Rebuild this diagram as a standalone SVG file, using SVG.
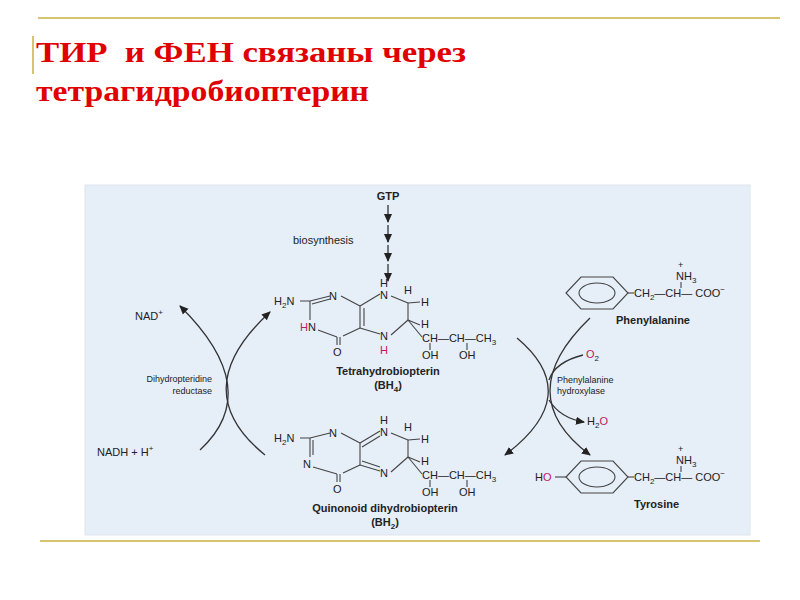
<svg xmlns="http://www.w3.org/2000/svg" width="800" height="600" viewBox="0 0 800 600">
<style>
.t{font-family:"Liberation Sans",Arial,sans-serif;font-size:11px;fill:#222}
.s{font-family:"Liberation Sans",Arial,sans-serif;font-size:9px;fill:#222}
.b{font-weight:bold}
.p{fill:#c2185b}
.bd{stroke:#444;stroke-width:1.1;fill:none}
.cn{stroke:#333;stroke-width:1.3;fill:none}
.title{font-family:"Liberation Serif","Times New Roman",serif;font-size:29px;font-weight:bold;fill:#e00000}
</style>
<defs>
<marker id="ah" markerWidth="10" markerHeight="10" refX="8" refY="5" orient="auto" markerUnits="userSpaceOnUse"><path d="M0,1 L9,5 L0,9 Z" fill="#222"/></marker>
</defs>
<rect width="800" height="600" fill="#fff"/>
<line x1="38" y1="18" x2="780" y2="18" stroke="#c8b040" stroke-width="1.5"/>
<line x1="33" y1="36" x2="33" y2="74" stroke="#c8b040" stroke-width="1.5"/>
<line x1="40" y1="541" x2="760" y2="541" stroke="#c8b040" stroke-width="1.5"/>
<text class="title" x="36" y="62" textLength="430" lengthAdjust="spacingAndGlyphs" xml:space="preserve">ТИР  и ФЕН связаны через</text>
<text class="title" x="36" y="101" textLength="333" lengthAdjust="spacingAndGlyphs">тетрагидробиоптерин</text>
<rect x="85" y="185" width="665" height="350" fill="#e6eef8" stroke="#dde4ee"/>

<g id="gtp">
<text class="t b" x="388" y="200" text-anchor="middle">GTP</text>
<text class="t" x="293" y="244">biosynthesis</text>
</g>

<g id="bh4">
<text class="t" x="274" y="305">H<tspan font-size="8" dy="3">2</tspan><tspan dy="-3">N</tspan></text>
<polyline class="bd" points="300,301 310,301 330,296"/>
<line class="bd" x1="312" y1="304" x2="330" y2="299"/>
<text class="t" x="329" y="300">N</text>
<line class="bd" x1="341" y1="296" x2="360" y2="306"/>
<line class="bd" x1="360" y1="306" x2="360" y2="328"/>
<line class="bd" x1="364" y1="308" x2="364" y2="326"/>
<line class="bd" x1="360" y1="306" x2="380" y2="294"/>
<line class="bd" x1="360" y1="328" x2="380" y2="334"/>
<line class="bd" x1="360" y1="328" x2="343" y2="336"/>
<text class="t" x="380" y="299">N</text>
<text class="t" x="380" y="287">H</text>
<line class="bd" x1="391" y1="296" x2="408" y2="303"/>
<text class="t" x="380" y="340">N</text>
<text class="t p" x="380" y="354">H</text>
<line class="bd" x1="391" y1="335" x2="408" y2="320"/>
<line class="bd" x1="408" y1="303" x2="408" y2="320"/>
<text class="t" x="404" y="294">H</text>
<line class="bd" x1="408" y1="303" x2="420" y2="302"/>
<text class="t" x="421" y="306">H</text>
<text class="t" x="421" y="328">H</text>
<line class="bd" x1="408" y1="320" x2="420" y2="325"/>
<line class="bd" x1="408" y1="320" x2="422" y2="337"/>
<text class="t" x="422" y="342">CH—CH—CH<tspan font-size="8" dy="3">3</tspan></text>
<line class="bd" x1="430" y1="343" x2="430" y2="350"/>
<line class="bd" x1="467" y1="343" x2="467" y2="350"/>
<text class="t" x="422" y="359">OH</text><text class="t" x="459" y="359">OH</text>
<line class="bd" x1="310" y1="301" x2="310" y2="320"/>
<text class="t" x="300" y="331"><tspan class="p">H</tspan>N</text>
<line class="bd" x1="318" y1="330" x2="337" y2="337"/>
<line class="bd" x1="337" y1="337" x2="337" y2="345"/>
<line class="bd" x1="340" y1="337" x2="340" y2="345"/>
<text class="t" x="333" y="356">O</text>
<text class="t b" x="388" y="375" text-anchor="middle">Tetrahydrobiopterin</text>
<text class="t b" x="388" y="389" text-anchor="middle">(BH<tspan font-size="8" dy="3">4</tspan><tspan dy="-3">)</tspan></text>
</g>

<g id="bh2">
<text class="t" x="274" y="442">H<tspan font-size="8" dy="3">2</tspan><tspan dy="-3">N</tspan></text>
<polyline class="bd" points="300,438 310,438 330,433"/>
<line class="bd" x1="310" y1="438" x2="310" y2="457"/>
<line class="bd" x1="313" y1="440" x2="313" y2="455"/>
<text class="t" x="329" y="437">N</text>
<line class="bd" x1="341" y1="433" x2="360" y2="443"/>
<line class="bd" x1="360" y1="443" x2="360" y2="465"/>
<line class="bd" x1="360" y1="443" x2="380" y2="431"/>
<line class="bd" x1="362" y1="447" x2="380" y2="436"/>
<line class="bd" x1="360" y1="465" x2="380" y2="471"/>
<line class="bd" x1="362" y1="461" x2="380" y2="467"/>
<line class="bd" x1="360" y1="465" x2="343" y2="473"/>
<text class="t" x="380" y="436">N</text>
<text class="t" x="380" y="424">H</text>
<line class="bd" x1="391" y1="433" x2="408" y2="440"/>
<text class="t" x="380" y="477">N</text>
<line class="bd" x1="391" y1="472" x2="408" y2="457"/>
<line class="bd" x1="408" y1="440" x2="408" y2="457"/>
<text class="t" x="404" y="431">H</text>
<line class="bd" x1="408" y1="440" x2="420" y2="439"/>
<text class="t" x="421" y="443">H</text>
<text class="t" x="421" y="465">H</text>
<line class="bd" x1="408" y1="457" x2="420" y2="462"/>
<line class="bd" x1="408" y1="457" x2="422" y2="474"/>
<text class="t" x="422" y="479">CH—CH—CH<tspan font-size="8" dy="3">3</tspan></text>
<line class="bd" x1="430" y1="480" x2="430" y2="487"/>
<line class="bd" x1="467" y1="480" x2="467" y2="487"/>
<text class="t" x="422" y="496">OH</text><text class="t" x="459" y="496">OH</text>
<text class="t" x="303" y="468">N</text>
<line class="bd" x1="313" y1="467" x2="337" y2="474"/>
<line class="bd" x1="337" y1="474" x2="337" y2="482"/>
<line class="bd" x1="340" y1="474" x2="340" y2="482"/>
<text class="t" x="333" y="493">O</text>
<text class="t b" x="385" y="512" text-anchor="middle">Quinonoid dihydrobiopterin</text>
<text class="t b" x="385" y="526" text-anchor="middle">(BH<tspan font-size="8" dy="3">2</tspan><tspan dy="-3">)</tspan></text>
</g>

<g id="phe">
<polygon class="bd" points="566,293 581,277 613,277 628,293 613,309 581,309"/>
<ellipse class="bd" cx="597" cy="293" rx="18" ry="10"/>
<line class="bd" x1="628" y1="293" x2="634" y2="293"/>
<text class="t" x="634" y="297">CH<tspan font-size="8" dy="3">2</tspan><tspan dy="-3">—CH— COO</tspan><tspan font-size="8" dy="-5">−</tspan></text>
<text class="t" x="676" y="280">NH<tspan font-size="8" dy="3">3</tspan></text>
<text class="s" x="678" y="268">+</text>
<line class="bd" x1="681" y1="282" x2="681" y2="288"/>
<text class="t b" x="616" y="324">Phenylalanine</text>
</g>

<g id="tyr">
<polygon class="bd" points="566,477 581,461 613,461 628,477 613,493 581,493"/>
<ellipse class="bd" cx="597" cy="477" rx="18" ry="10"/>
<text class="t" x="535" y="481">H<tspan class="p">O</tspan></text>
<line class="bd" x1="555" y1="477" x2="566" y2="477"/>
<line class="bd" x1="628" y1="477" x2="634" y2="477"/>
<text class="t" x="634" y="481">CH<tspan font-size="8" dy="3">2</tspan><tspan dy="-3">—CH— COO</tspan><tspan font-size="8" dy="-5">−</tspan></text>
<text class="t" x="676" y="464">NH<tspan font-size="8" dy="3">3</tspan></text>
<text class="s" x="678" y="452">+</text>
<line class="bd" x1="681" y1="466" x2="681" y2="472"/>
<text class="t b" x="634" y="508">Tyrosine</text>
</g>

<g id="labels">
<text class="t" x="135" y="320">NAD<tspan font-size="8" dy="-5">+</tspan></text>
<text class="t" x="97" y="456">NADH + H<tspan font-size="8" dy="-5">+</tspan></text>
<text class="s" x="212" y="382" text-anchor="end">Dihydropteridine</text>
<text class="s" x="212" y="394" text-anchor="end">reductase</text>
<text class="s" x="557" y="383">Phenylalanine</text>
<text class="s" x="557" y="394">hydroxylase</text>
<text class="t" x="586" y="358"><tspan class="p">O</tspan><tspan font-size="8" dy="3">2</tspan></text>
<text class="t" x="587" y="425">H<tspan font-size="8" dy="3">2</tspan><tspan dy="-3" class="p">O</tspan></text>
</g>

<g id="connectors">
<line class="cn" x1="388" y1="205" x2="388" y2="222" marker-end="url(#ah)"/>
<line class="cn" x1="388" y1="225" x2="388" y2="242" marker-end="url(#ah)"/>
<line class="cn" x1="388" y1="245" x2="388" y2="261" marker-end="url(#ah)"/>
<line class="cn" x1="388" y1="264" x2="388" y2="281" marker-end="url(#ah)"/>
<path class="cn" d="M265,455 Q185,390 270,312" marker-end="url(#ah)"/>
<path class="cn" d="M200,450 Q265,390 180,306" marker-end="url(#ah)"/>
<path class="cn" d="M517,338 Q585,395 505,455" marker-end="url(#ah)"/>
<path class="cn" d="M590,318 Q510,395 590,455" marker-end="url(#ah)"/>
<path class="cn" d="M583,355 Q555,362 549,380"/>
<path class="cn" d="M549,400 Q560,418 584,422" marker-end="url(#ah)"/>
</g>
</svg>
